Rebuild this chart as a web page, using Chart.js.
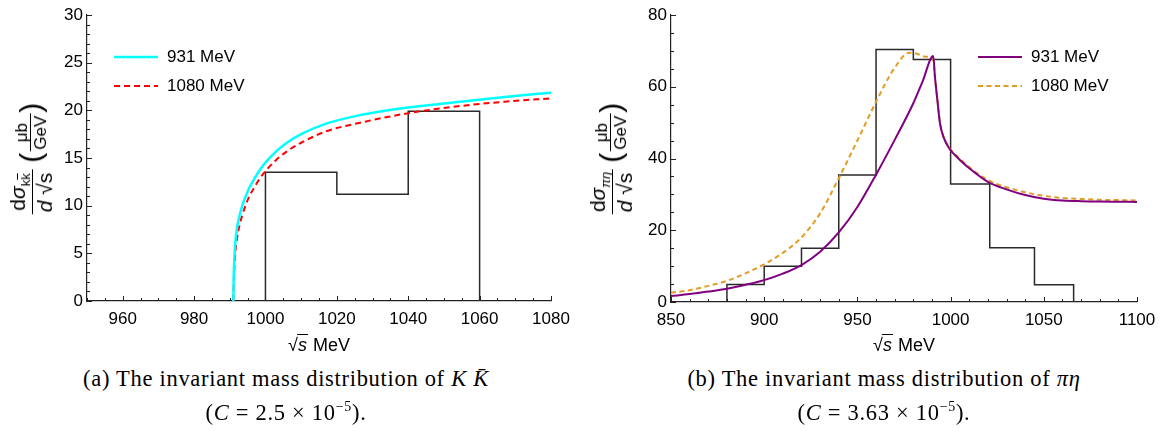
<!DOCTYPE html>
<html>
<head>
<meta charset="utf-8">
<script src="https://cdn.jsdelivr.net/npm/chart.js@4.4.1/dist/chart.umd.min.js"></script>
<style>
  body { margin: 0; background: #fff; }
  #page { position: relative; width: 1168px; height: 433px; overflow: hidden; font-family: "Liberation Sans", Arial, sans-serif; color: #000; }
  canvas { position: absolute; top: 0; }
  .ylab { position: absolute; display: flex; align-items: center; transform: translate(-50%, -50%) rotate(-90deg); white-space: nowrap; }
  .frac { display: inline-flex; flex-direction: column; align-items: center; line-height: 1.0; }
  .frac .den { border-top: 1.2px solid #000; padding: 1px 2px 0; }
  .big { font-size: 21px; }
  .small { font-size: 17px; }
  .paren { font-size: 30px; font-weight: 300; margin: 0 1px; line-height: 1; }
  .sqrt { display: inline-block; }
  .sqrt .rad { border-top: 1.3px solid #000; padding: 0 1px; font-style: italic; margin-left: -1px; }
  .xtitle { position: absolute; top: 335px; transform: translateX(-50%); font-size: 18px; white-space: nowrap; }
  .cap { position: absolute; transform: translateX(-50%); font-family: "Liberation Serif", "DejaVu Serif", serif; font-size: 22.5px; letter-spacing: 0.7px; white-space: nowrap; }
  sub { font-size: 13px; vertical-align: -5px; }
  sup { font-size: 14px; vertical-align: 9px; }
</style>
</head>
<body>
<div id="page">
  <canvas id="kk" width="584" height="360" style="left:0"></canvas>
  <canvas id="pieta" width="584" height="360" style="left:584px"></canvas>

  <div class="ylab" style="left:31px; top:158px">
    <span class="frac big"><span>d<i>σ</i><sub>k<span style="text-decoration: overline">k</span></sub></span><span class="den"><i>d</i> <span class="sqrt">√<span class="rad" style="font-style:normal">s</span></span></span></span>
    <span style="width:6px"></span>
    <span class="paren">(</span><span class="frac small"><span>μb</span><span class="den">GeV</span></span><span class="paren">)</span>
  </div>
  <div class="ylab" style="left:611px; top:158px">
    <span class="frac big"><span>d<i>σ</i><sub><i>πη</i></sub></span><span class="den"><i>d</i> <span class="sqrt">√<span class="rad" style="font-style:normal">s</span></span></span></span>
    <span style="width:6px"></span>
    <span class="paren">(</span><span class="frac small"><span>μb</span><span class="den">GeV</span></span><span class="paren">)</span>
  </div>

  <div class="xtitle" style="left:319px"><span class="sqrt">√<span class="rad">s</span></span> MeV</div>
  <div class="xtitle" style="left:904px"><span class="sqrt">√<span class="rad">s</span></span> MeV</div>

  <div class="cap" style="left:286px; top:366px">(a) The invariant mass distribution of <i>K</i> <i>K̄</i></div>
  <div class="cap" style="left:286px; top:399px">(<i>C</i> = 2.5 × 10<sup>−5</sup>).</div>
  <div class="cap" style="left:884px; top:366px">(b) The invariant mass distribution of <i>πη</i></div>
  <div class="cap" style="left:884px; top:399px">(<i>C</i> = 3.63 × 10<sup>−5</sup>).</div>
</div>

<script>
// ---- K Kbar panel ----
const kkXTicks = [960, 980, 1000, 1020, 1040, 1060, 1080];
const kkYTicks = [0, 5, 10, 15, 20, 25, 30];
const kkEdges = [1000, 1020, 1040, 1060];
const kkCounts = [13.5, 11.2, 19.9];
const kkMass = [991.0, 991.1, 991.3, 991.6, 992, 992.7, 993.5, 994.5, 995.5, 997, 998.5, 1000.4, 1003, 1006, 1010, 1017, 1026.5, 1040, 1054.5, 1067, 1080];
const kk931 = [0, 2.5, 4.6, 6.3, 7.6, 8.9, 10.0, 11.0, 11.9, 12.9, 13.8, 14.7, 15.7, 16.6, 17.5, 18.6, 19.5, 20.3, 20.9, 21.4, 21.85];
const kk1080 = [0, 1.8, 3.6, 5.2, 6.5, 7.9, 9.0, 10.1, 11.0, 12.0, 12.9, 13.8, 14.8, 15.7, 16.6, 17.8, 18.7, 19.7, 20.45, 20.9, 21.26];

// ---- pi eta panel ----
const peXTicks = [850, 900, 950, 1000, 1050, 1100];
const peYTicks = [0, 20, 40, 60, 80];
const peEdges = [880, 900, 920, 940, 960, 980, 1000, 1021, 1045, 1066];
const peCounts = [4.9, 10.0, 15.0, 35.4, 70.4, 67.6, 32.9, 15.1, 4.8];
const pe931Mass = [850, 860, 870, 880, 890, 900, 910, 920, 930, 940, 950, 960, 970, 980, 985, 990.7, 991.6, 992.9, 994.3, 996.1, 999.3, 1005, 1010, 1020, 1030, 1040, 1050, 1060, 1070, 1080, 1090, 1100];
const pe931 = [1.67, 2.2, 2.9, 3.7, 4.8, 6.1, 7.9, 10.3, 14.0, 19.4, 26.5, 35.5, 45.2, 55.4, 61.5, 68.6, 62.8, 56.3, 49.8, 46.1, 42.8, 39.6, 37.3, 33.5, 31.4, 29.8, 28.8, 28.3, 28.1, 28.0, 27.95, 27.9];
const pe1080Mass = [850, 860, 870, 880, 890, 900, 910, 920, 930, 940, 950, 960, 970, 978, 982, 986, 990.7, 991.6, 992.9, 994.3, 996.1, 999.3, 1005, 1010, 1020, 1030, 1040, 1050, 1060, 1070, 1080, 1090, 1100];
const pe1080 = [2.6, 3.3, 4.5, 5.9, 8.0, 10.5, 13.7, 18.0, 24.7, 34.5, 45.0, 55.8, 65.3, 69.5, 69.2, 68.4, 67.6, 62.5, 56.5, 50.0, 46.3, 43.0, 40.0, 37.6, 34.0, 32.0, 30.6, 29.6, 29.0, 28.7, 28.5, 28.4, 28.3];

Chart.defaults.font.family = '"Liberation Sans", Arial, sans-serif';
Chart.defaults.font.size = 17;
Chart.defaults.color = '#000';

function points(xs, ys) {
    return xs.map((x, i) => ({ x: x, y: ys[i] }));
}

// histogram outline from bin edges and counts
function outline(edges, counts) {
    const pts = [{ x: edges[0], y: 0 }];
    counts.forEach((c, i) => {
        pts.push({ x: edges[i], y: c });
        pts.push({ x: edges[i + 1], y: c });
    });
    pts.push({ x: edges[edges.length - 1], y: 0 });
    return pts;
}

// Mathematica-style ticks pointing into the plot
const inwardTicks = {
    id: 'inwardTicks',
    afterDatasetsDraw(chart, args, opts) {
        const { ctx, chartArea } = chart;
        const x = chart.scales.x, y = chart.scales.y;
        ctx.save();
        ctx.strokeStyle = '#222';
        ctx.lineWidth = 1;
        for (let v = x.min; v <= x.max + 1e-6; v += opts.xMinor) {
            const px = Math.round(x.getPixelForValue(v)) + 0.5;
            const len = Math.abs(v % opts.xMajor) < 1e-6 ? 5 : 3;
            ctx.beginPath();
            ctx.moveTo(px, chartArea.bottom);
            ctx.lineTo(px, chartArea.bottom - len);
            ctx.stroke();
        }
        for (let v = y.min; v <= y.max + 1e-6; v += opts.yMinor) {
            const py = Math.round(y.getPixelForValue(v)) + 0.5;
            const len = Math.abs(v % opts.yMajor) < 1e-6 ? 5 : 3;
            ctx.beginPath();
            ctx.moveTo(chartArea.left, py);
            ctx.lineTo(chartArea.left + len, py);
            ctx.stroke();
        }
        ctx.restore();
    }
};

// legend drawn inside the plot
const insideLegend = {
    id: 'insideLegend',
    afterDatasetsDraw(chart, args, opts) {
        const { ctx, chartArea } = chart;
        ctx.save();
        ctx.font = '17px "Liberation Sans", Arial, sans-serif';
        ctx.textBaseline = 'middle';
        let row = 0;
        chart.data.datasets.forEach(ds => {
            if (!ds.label) return;
            const x0 = chartArea.left + opts.x;
            const yy = chartArea.top + opts.y + row * 29;
            ctx.strokeStyle = ds.borderColor;
            ctx.lineWidth = ds.borderWidth;
            ctx.setLineDash(ds.borderDash || []);
            ctx.beginPath();
            ctx.moveTo(x0, yy);
            ctx.lineTo(x0 + 44, yy);
            ctx.stroke();
            ctx.setLineDash([]);
            ctx.fillStyle = '#000';
            ctx.fillText(ds.label, x0 + 53, yy);
            row++;
        });
        ctx.restore();
    }
};

function makeChart(id, cfg) {
    return new Chart(document.getElementById(id), {
        type: 'line',
        data: {
            datasets: [
                {
                    label: '931 MeV',
                    data: points(cfg.mass931, cfg.y931),
                    borderColor: cfg.c931,
                    borderWidth: cfg.w931,
                    cubicInterpolationMode: 'monotone',
                    pointRadius: 0
                },
                {
                    label: '1080 MeV',
                    data: points(cfg.mass1080, cfg.y1080),
                    borderColor: cfg.c1080,
                    borderWidth: 2,
                    borderDash: cfg.dash,
                    cubicInterpolationMode: 'monotone',
                    pointRadius: 0
                },
                {
                    label: '',
                    data: outline(cfg.edges, cfg.counts),
                    borderColor: '#2a2a2a',
                    borderWidth: 1.5,
                    tension: 0,
                    pointRadius: 0
                }
            ]
        },
        options: {
            responsive: false,
            animation: false,
            layout: { padding: { left: 47, top: 15, right: cfg.padRight, bottom: cfg.padBottom } },
            plugins: {
                legend: { display: false },
                tooltip: { enabled: false },
                inwardTicks: cfg.ticks,
                insideLegend: { x: cfg.legendX, y: 42 }
            },
            scales: {
                x: {
                    type: 'linear',
                    min: cfg.xMin,
                    max: cfg.xMax,
                    afterBuildTicks: scale => { scale.ticks = cfg.xTicks.map(v => ({ value: v })); },
                    afterFit: scale => { scale.height = 30; },
                    grid: { display: false, drawTicks: false },
                    border: { display: true, color: '#222', width: 1.2 },
                    ticks: { padding: 8, maxRotation: 0, autoSkip: false, callback: v => String(v) }
                },
                y: {
                    min: 0,
                    max: cfg.yMax,
                    afterBuildTicks: scale => { scale.ticks = cfg.yTicks.map(v => ({ value: v })); },
                    afterFit: scale => { scale.width = 40; },
                    grid: { display: false, drawTicks: false },
                    border: { display: true, color: '#222', width: 1.2 },
                    ticks: { padding: 4, autoSkip: false, callback: v => String(v) }
                }
            }
        },
        plugins: [inwardTicks, insideLegend]
    });
}

makeChart('kk', {
    mass931: kkMass, y931: kk931, mass1080: kkMass, y1080: kk1080,
    c931: '#00ffff', w931: 2.5, c1080: '#ff0000', dash: [6, 4],
    edges: kkEdges, counts: kkCounts,
    xMin: 950, xMax: 1080, yMax: 30, xTicks: kkXTicks, yTicks: kkYTicks,
    ticks: { xMinor: 5, xMajor: 20, yMinor: 1, yMajor: 5 },
    legendX: 27, padRight: 33, padBottom: 29
});

makeChart('pieta', {
    mass931: pe931Mass, y931: pe931, mass1080: pe1080Mass, y1080: pe1080,
    c931: '#800080', w931: 2, c1080: '#e19c24', dash: [5, 3.5],
    edges: peEdges, counts: peCounts,
    xMin: 850, xMax: 1100, yMax: 80, xTicks: peXTicks, yTicks: peYTicks,
    ticks: { xMinor: 10, xMajor: 50, yMinor: 5, yMajor: 20 },
    legendX: 307, padRight: 31, padBottom: 28
});
</script>
</body>
</html>
